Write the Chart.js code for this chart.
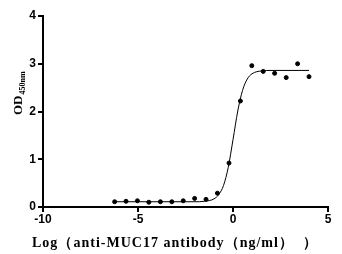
<!DOCTYPE html>
<html>
<head>
<meta charset="utf-8">
<script src="https://cdn.jsdelivr.net/npm/chart.js@4"></script>
<style>
  html, body { margin: 0; padding: 0; background: #fff; }
  #wrap { width: 342px; height: 254px; }
</style>
</head>
<body>
<div id="wrap"><canvas id="chart" width="342" height="254"></canvas></div>
<script>
// measured points (log concentration vs OD)
const logConc = [-6.23, -5.63, -5.03, -4.43, -3.82, -3.22, -2.62, -2.02, -1.42,
  -0.82, -0.21, 0.39, 0.99, 1.59, 2.19, 2.80, 3.40, 4.00];
const odValues = [0.11, 0.12, 0.13, 0.10, 0.11, 0.11, 0.13, 0.18, 0.16,
  0.29, 0.92, 2.22, 2.96, 2.84, 2.80, 2.71, 3.00, 2.73];

// fitted curve
const fitX = [-6.3, -2.0, -1.5, -1.0, -0.75, -0.5, -0.25, 0, 0.25, 0.5, 0.75, 1.0, 1.5, 2.0, 4.0];
const fitY = [0.11, 0.11, 0.12, 0.17, 0.26, 0.45, 0.83, 1.41, 2.01, 2.44, 2.68, 2.79, 2.85, 2.86, 2.86];

const xTicks = [-10, -5, 0, 5];
const yTicks = [0, 1, 2, 3, 4];

const xTitle = "Log（anti-MUC17 antibody（ng/ml）  ）";

/* Draws both axis titles, the y one with a subscript. */
const titlePlugin = {
  id: "titles",
  afterDraw(chart) {
    let ctx = chart.ctx;
    ctx.save();
    ctx.fillStyle = "#000";
    ctx.font = "bold 14px 'Liberation Serif'";
    ctx.textBaseline = "alphabetic";
    ctx.textAlign = "left";
    ctx.letterSpacing = "0px";
    let w = ctx.measureText(xTitle).width;
    let target = 285;
    let spacing = (target - w) / (xTitle.length - 1);
    ctx.letterSpacing = spacing + "px";
    ctx.fillText(xTitle, 32, 247);

    ctx.letterSpacing = "0px";
    ctx.translate(22, 115);
    ctx.rotate(-Math.PI / 2);
    ctx.font = "bold 13px 'Liberation Serif'";
    ctx.fillText("OD", 0, 0);
    let odW = ctx.measureText("OD").width;
    ctx.font = "bold 8px 'Liberation Serif'";
    ctx.fillText("450nm", odW + 1, 3);
    ctx.restore();
  },
};

let tickFont = { family: "'Liberation Sans'", size: 12, weight: "bold" };

let ctx = document.querySelector("#chart").getContext("2d");
new Chart(ctx, {
  type: "scatter",
  data: {
    datasets: [
      {
        label: "fit",
        data: fitX.map((x, i) => ({ x: x, y: fitY[i] })),
        showLine: true,
        borderColor: "#000",
        borderWidth: 1,
        pointRadius: 0,
        cubicInterpolationMode: "monotone",
      },
      {
        label: "OD",
        data: logConc.map((x, i) => ({ x: x, y: odValues[i] })),
        backgroundColor: "#000",
        borderColor: "#000",
        pointRadius: 2,
        pointStyle: "circle",
      },
    ],
  },
  options: {
    responsive: false,
    animation: false,
    layout: { padding: { top: 16, right: 14, left: 0, bottom: 0 } },
    plugins: { legend: { display: false }, tooltip: { enabled: false } },
    scales: {
      x: {
        type: "linear",
        min: -10,
        max: 5,
        afterBuildTicks: (s) => { s.ticks = xTicks.map((v) => ({ value: v })); },
        afterFit: (s) => { s.height = 47; },
        border: { color: "#000", width: 2 },
        grid: { drawOnChartArea: false, color: "#000", lineWidth: 2, tickLength: 5 },
        ticks: { color: "#000", font: tickFont, padding: 0, maxRotation: 0 },
      },
      y: {
        type: "linear",
        min: 0,
        max: 4,
        afterBuildTicks: (s) => { s.ticks = yTicks.map((v) => ({ value: v })); },
        afterFit: (s) => { s.width = 43; },
        border: { color: "#000", width: 2 },
        grid: { drawOnChartArea: false, color: "#000", lineWidth: 2, tickLength: 5 },
        ticks: { color: "#000", font: tickFont, padding: 2 },
      },
    },
  },
  plugins: [titlePlugin],
});
</script>
</body>
</html>
